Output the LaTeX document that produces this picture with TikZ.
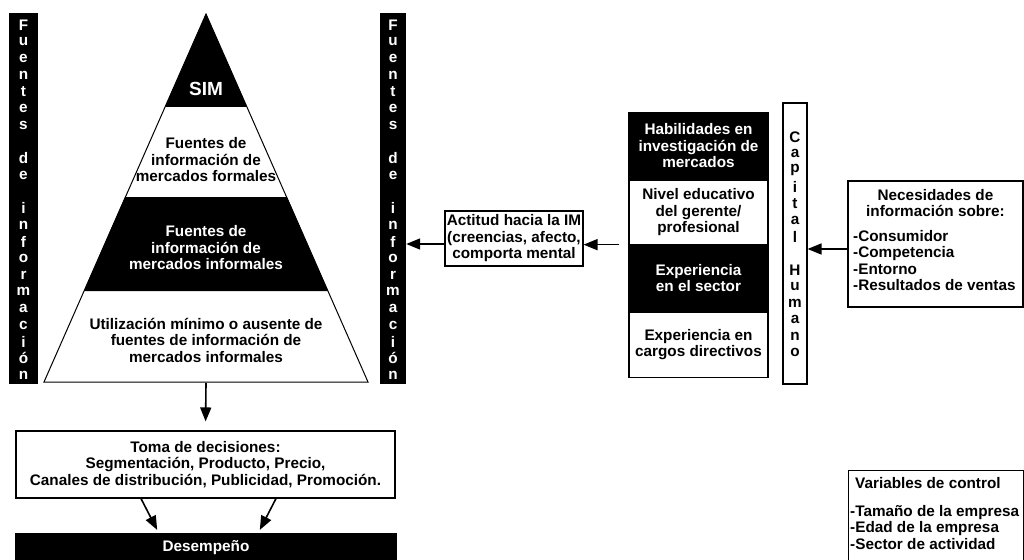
\documentclass[tikz,border=0pt]{standalone}
\usepackage{fontspec}
\setmainfont{Liberation Sans}
\usetikzlibrary{arrows, arrows.meta, shapes, positioning}

\newcommand{\txt}{\fontsize{15.3}{16.5}\selectfont\bfseries}

\begin{document}
\begin{tikzpicture}[x=1pt, y=-1pt,
	box/.style={draw, line width=1.1pt, fill=white, align=center, inner sep=0pt, font=\txt},
	darkbox/.style={box, fill=black, text=white},
	letter/.style={inner sep=0pt, font=\txt},
	link/.style={line width=1.6pt, -{Triangle[length=14pt, width=11pt]}}]
	\useasboundingbox (0,0) rectangle (1024,559);
	\clip (0,0) rectangle (1024,559);

	% side bars
	\node [fill=black, minimum width=29, minimum height=371, inner sep=0pt] (lbar) at (23.5,198.5) {};
	\node [fill=black, minimum width=26, minimum height=371, inner sep=0pt] (rbar) at (393,198.5) {};
	\foreach \ch [count=\i from 0] in {F,u,e,n,t,e,s,{},d,e,{},i,n,f,o,r,m,a,c,i,ó,n} {
		\node [letter, text=white] (l\i) at (23.5,{25+16.67*\i}) {\ch};
		\node [letter, text=white] (r\i) at (393,{25+16.67*\i}) {\ch};
	}

	% pyramid
	\fill [black] (206,14) -- (247,107) -- (165,107) -- cycle;
	\fill [black] (125,197) -- (287,197) -- (328,291) -- (84,291) -- cycle;
	\draw [line width=1pt] (206,14) -- (368,382) -- (44,382) -- cycle;
	\coordinate (base) at (206,383);
	\node [letter, text=white, font=\fontsize{19}{20}\selectfont\bfseries] (sim) at (206,89) {SIM};
	\node [letter, align=center] (formal) at (206,160) {Fuentes de\\información de\\mercados formales};
	\node [letter, align=center, text=white] (informal) at (206,248) {Fuentes de\\información de\\mercados informales};
	\node [letter, align=center] (minimo) at (206,340) {Utilización mínimo o ausente de\\fuentes de información de\\mercados informales};

	% decisions
	\node [box, minimum width=379, minimum height=67] (toma) at (205.5,464.5) {Toma de decisiones:\\Segmentación, Producto, Precio,\\Canales de distribución, Publicidad, Promoción.};
	\node [darkbox, minimum width=380, minimum height=28] (desemp) at (206,548) {Desempeño};
	\draw [link, shorten >=9] (base) -- (toma.north);
	\draw [link, shorten >=4] ([xshift=-64.5]toma.south) -- ([xshift=-47]desemp.north);
	\draw [link, shorten >=4] ([xshift=70.5]toma.south) -- ([xshift=52]desemp.north);

	% attitude
	\node [box, minimum width=138, minimum height=55] (actitud) at (514,238.5) {Actitud hacia la IM\\(creencias, afecto,\\comporta mental};
	\coordinate (a1) at ([yshift=-5.5]actitud.west);
	\draw [link] (a1) -- (a1 -| rbar.east);

	% human capital
	\node [darkbox, minimum width=139, minimum height=66] (habil) at (698.5,146) {Habilidades en\\investigación de\\mercados};
	\node [box, minimum width=139, minimum height=64, below=0pt of habil] (nivel) {Nivel educativo\\del gerente/\\profesional};
	\node [darkbox, minimum width=139, minimum height=66, below=0pt of nivel] (exper) {Experiencia\\en el sector};
	\node [box, minimum width=139, minimum height=65, below=0pt of exper] (cargos) {Experiencia en\\cargos directivos};
	\draw [link, shorten <=9] (nivel.south west) -- (nivel.south west -| actitud.east);

	\node [box, minimum width=24, minimum height=281] (capital) at (795,243.5) {};
	\foreach \ch [count=\i from 0] in {C,a,p,i,t,a,l,{},H,u,m,a,n,o} {
		\node [letter] (c\i) at (795,{137+16.6*\i}) {\ch};
	}

	% needs
	\node [box, minimum width=175, minimum height=126] (necesidades) at (935.5,244) {};
	\node [letter, align=center] (nectitle) at (935.5,203) {Necesidades de\\información sobre:};
	\node [letter, align=left, anchor=north west] (neclist) at (853,230) {-Consumidor\\-Competencia\\-Entorno\\-Resultados de ventas};
	\coordinate (n1) at ([yshift=-5]necesidades.west);
	\draw [link] (n1) -- (n1 -| capital.east);

	% control variables
	\node [box, minimum width=175, minimum height=100, anchor=north west] (control) at (848,470) {};
	\node [letter, anchor=north west] (ctitle) at (855,477) {Variables de control};
	\node [letter, align=left, anchor=north west] (clist) at (850,505) {-Tamaño de la empresa\\-Edad de la empresa\\-Sector de actividad};
\end{tikzpicture}
\end{document}
